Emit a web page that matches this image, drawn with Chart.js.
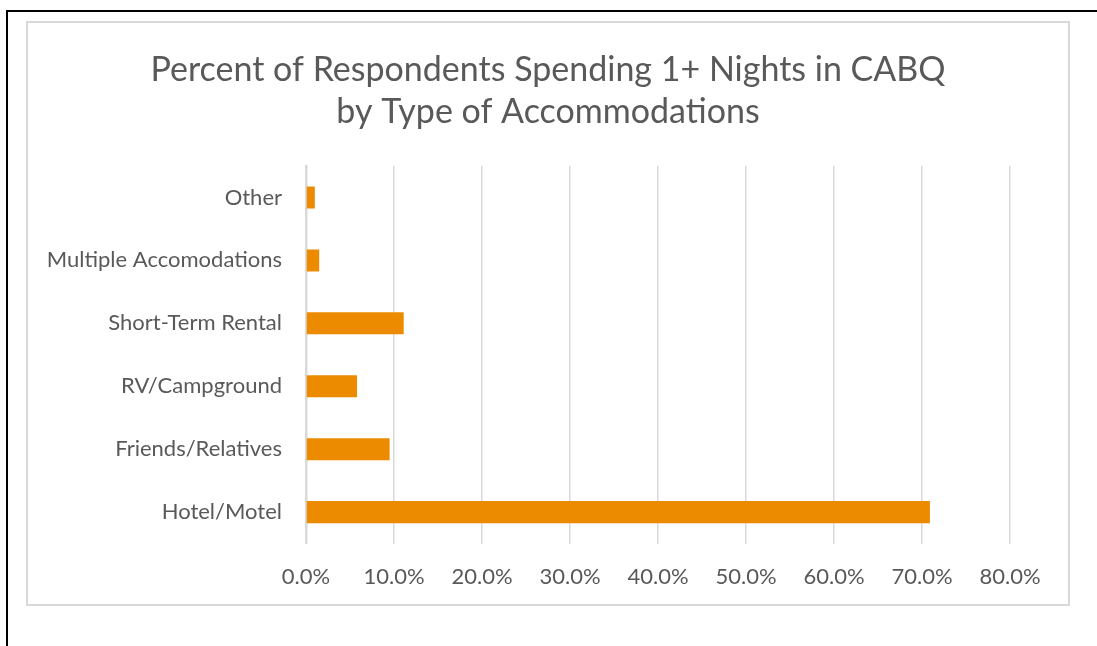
<!DOCTYPE html>
<html>
<head>
<meta charset="utf-8">
<script src="https://cdn.jsdelivr.net/npm/chart.js@4"></script>
<style>
  html, body { margin: 0; padding: 0; background: #fff; }
  #frame {
    position: absolute; left: 6px; top: 10px; right: 0; bottom: 0;
    border-top: 2px solid #000; border-left: 2px solid #000;
  }
  #box {
    position: absolute; left: 26px; top: 21px;
    width: 1040px; height: 581px;
    border: 2px solid #d9d9d9;
  }
  canvas { display: block; }
</style>
</head>
<body>
<div id="frame"></div>
<div id="box"><canvas id="chart" width="1040" height="581"></canvas></div>
<script>
// bottom-to-top order, as in the sheet
const categories = ['Hotel/Motel', 'Friends/Relatives', 'RV/Campground', 'Short-Term Rental', 'Multiple Accomodations', 'Other'];
const percentNights = [70.9, 9.5, 5.8, 11.1, 1.5, 1.0];
const xTicks = [0, 10, 20, 30, 40, 50, 60, 70, 80];

const textColor = '#595959';
const fontFamily = 'Lato, "Open Sans", sans-serif';

new Chart(document.getElementById('chart'), {
  type: 'bar',
  data: {
    labels: categories,
    datasets: [{
      label: 'Percent',
      data: percentNights,
      backgroundColor: '#EC8B00',
      borderWidth: 0,
      barPercentage: 0.35,
      categoryPercentage: 1
    }]
  },
  options: {
    indexAxis: 'y',
    responsive: false,
    animation: false,
    layout: { padding: { top: 0, right: 0, bottom: 14, left: 0 } },
    plugins: {
      legend: { display: false },
      tooltip: { enabled: false },
      title: {
        display: true,
        text: ['Percent of Respondents Spending 1+ Nights in CABQ', 'by Type of Accommodations'],
        color: textColor,
        font: { family: fontFamily, size: 34, weight: 'normal', lineHeight: '42px' },
        padding: { top: 26, bottom: 33 }
      }
    },
    scales: {
      x: {
        min: xTicks[0],
        max: xTicks[xTicks.length - 1],
        afterBuildTicks: axis => { axis.ticks = xTicks.map(v => ({ value: v })); },
        afterFit: axis => { axis.height = 46.4; },
        grid: { color: '#d9d9d9', lineWidth: 1.5, drawTicks: false },
        border: { display: false },
        ticks: {
          color: textColor,
          padding: 20,
          font: { family: fontFamily, size: 22 },
          callback: value => value.toFixed(1) + '%'
        }
      },
      y: {
        reverse: true,
        afterFit: axis => { axis.width = 278; },
        grid: { display: false, drawTicks: false },
        border: { display: true, color: '#d9d9d9', width: 2.5 },
        ticks: {
          color: textColor,
          padding: 24,
          font: { family: fontFamily, size: 22 }
        }
      },
      // empty right-hand strip so the title stays centred on the whole box
      spacer: {
        axis: 'y',
        type: 'category',
        position: 'right',
        afterFit: axis => { axis.width = 58; },
        grid: { display: false, drawTicks: false },
        border: { display: false },
        ticks: { display: false }
      }
    }
  }
});
</script>
</body>
</html>
